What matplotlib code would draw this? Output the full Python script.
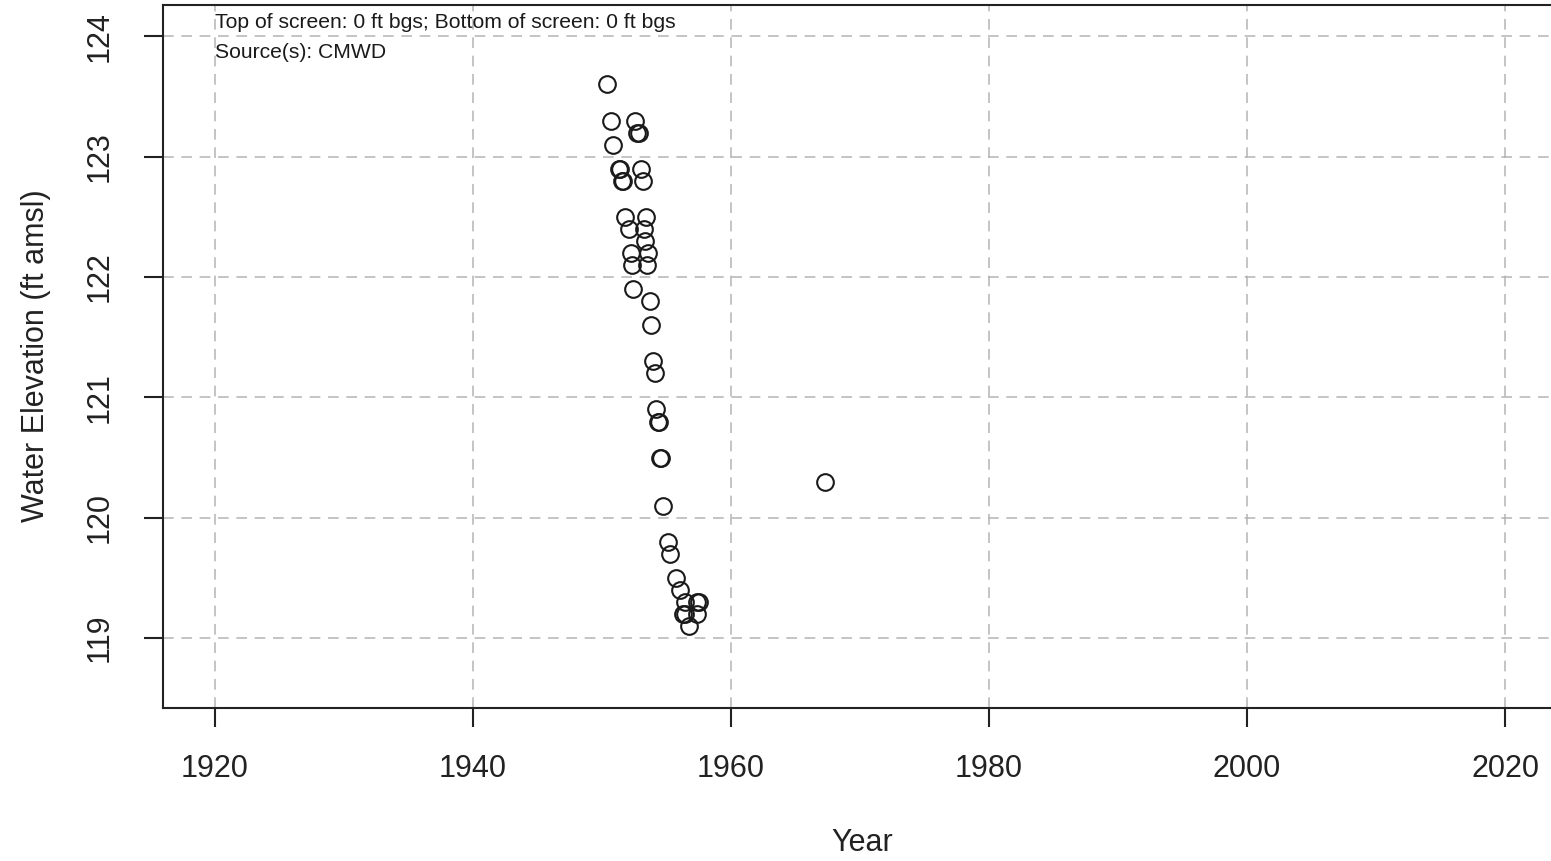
import matplotlib
matplotlib.use("Agg")
import matplotlib.pyplot as plt

plt.rcParams['font.family'] = ['Liberation Sans', 'DejaVu Sans']

# measurement dates (decimal year) and water elevations (ft amsl)
years = [1950.36, 1950.67, 1950.88, 1951.34, 1951.40, 1951.53, 1951.65,
         1952.56, 1952.69, 1952.89, 1953.00, 1953.16,
         1951.78, 1952.12, 1952.22, 1952.35, 1952.43,
         1953.41, 1953.28, 1953.33, 1953.59, 1953.51,
         1953.72, 1953.80, 1953.98, 1954.11, 1954.19, 1954.33, 1954.39,
         1954.52, 1954.58, 1954.75, 1955.09, 1955.27, 1955.74, 1956.05,
         1956.43, 1957.39, 1957.54, 1956.26, 1956.43, 1957.34, 1956.77,
         1967.29]
elev = [123.6, 123.3, 123.1, 122.9, 122.9, 122.8, 122.8,
        123.3, 123.2, 123.2, 122.9, 122.8,
        122.5, 122.4, 122.2, 122.1, 121.9,
        122.5, 122.4, 122.3, 122.2, 122.1,
        121.8, 121.6, 121.3, 121.2, 120.9, 120.8, 120.8,
        120.5, 120.5, 120.1, 119.8, 119.7, 119.5, 119.4,
        119.3, 119.3, 119.3, 119.2, 119.2, 119.2, 119.1,
        120.3]

xticks = [1920, 1940, 1960, 1980, 2000, 2020]
yticks = [119, 120, 121, 122, 123, 124]
notes = ["Top of screen: 0 ft bgs; Bottom of screen: 0 ft bgs",
         "Source(s): CMWD"]

W, H = 1551, 861
fig = plt.figure(figsize=(W / 100, H / 100), dpi=100)
ax = fig.add_axes([163 / W, (H - 708) / H, 1394 / W, 703 / H])

ax.plot(years, elev, linestyle='none', marker='o', markersize=12,
        markerfacecolor='none', markeredgecolor='#1a1a1a', markeredgewidth=1.5)

ax.set_xlim(1915.97, 2024.03)
ax.set_ylim(118.42, 124.26)
ax.set_xticks(xticks)
ax.set_yticks(yticks)
ax.set_yticklabels([str(v) for v in yticks], rotation=90, va='center')

ax.grid(True, color='#b4b4b4', linestyle=(0, (7, 5)), linewidth=1.1)
ax.set_axisbelow(True)

for s in ax.spines.values():
    s.set_linewidth(1.5)
    s.set_color('#222222')
ax.tick_params(axis='both', direction='out', length=14, width=1.5,
               color='#222222', labelsize=22, labelcolor='#222222')
ax.tick_params(axis='x', pad=19)
ax.tick_params(axis='y', pad=21)

ax.text(1920, 124.116, notes[0], fontsize=15.2, color='#1a1a1a', va='center', ha='left')
ax.text(1920, 123.867, notes[1], fontsize=15.2, color='#1a1a1a', va='center', ha='left')

fig.text(862 / W, 1 - 843 / H, "Year", fontsize=22, color='#222222',
         ha='center', va='center')
fig.text(36 / W, 1 - 356 / H, "Water Elevation (ft amsl)", fontsize=22,
         color='#222222', ha='center', va='center', rotation=90)

fig.savefig("out.png", dpi=100)
